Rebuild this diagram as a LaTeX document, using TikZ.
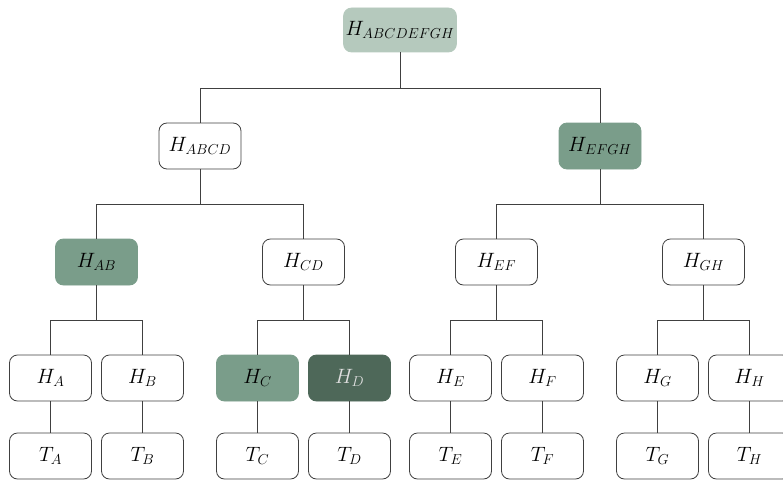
\documentclass[tikz,border=0pt]{standalone}
\usetikzlibrary{trees}

\definecolor{palegreen}{RGB}{181,201,189}
\definecolor{midgreen}{RGB}{122,157,138}
\definecolor{deepgreen}{RGB}{78,104,89}

\begin{document}
\begin{tikzpicture}[
  x=1pt, y=1pt,
  level distance=116pt,
  level 1/.style={sibling distance=400pt},
  level 2/.style={sibling distance=207pt},
  level 3/.style={sibling distance=92pt},
  level 4/.style={level distance=78pt},
  hbox/.style={rectangle, rounded corners=8pt, draw=black!75, line width=.8pt,
    fill=white, minimum width=82pt, minimum height=46pt, font=\huge},
  pale/.style={hbox, fill=palegreen, draw=palegreen},
  mid/.style={hbox, fill=midgreen, draw=midgreen},
  deep/.style={hbox, fill=deepgreen, draw=deepgreen, text=white!88!black},
  edge from parent/.style={draw=black!75, line width=.8pt},
  edge from parent path={(\tikzparentnode.south) |- ([yshift=.5\tikzleveldistance]\tikzchildnode.center) -- (\tikzchildnode.north)}]

  \useasboundingbox (-400,30) rectangle (383,-454);

  \node[pale, inner xsep=2pt, minimum width=111pt, minimum height=44pt] (habcdefgh) {$H_{ABCDEFGH}$}
	child {node[hbox] (habcd) {$H_{ABCD}$}
		child {node[mid] (hab) {$H_{AB}$}
			child {node[hbox] (ha) {$H_A$}
				child {node[hbox] (ta) {$T_A$}}
			}
			child {node[hbox] (hb) {$H_B$}
				child {node[hbox] (tb) {$T_B$}}
			}
		}
		child {node[hbox] (hcd) {$H_{CD}$}
			child {node[mid] (hc) {$H_C$}
				child {node[hbox] (tc) {$T_C$}}
			}
			child {node[deep] (hd) {$H_D$}
				child {node[hbox] (td) {$T_D$}}
			}
		}
	}
	child {node[mid] (hefgh) {$H_{EFGH}$}
		child {node[hbox] (hef) {$H_{EF}$}
			child {node[hbox] (he) {$H_E$}
				child {node[hbox] (te) {$T_E$}}
			}
			child {node[hbox] (hf) {$H_F$}
				child {node[hbox] (tf) {$T_F$}}
			}
		}
		child {node[hbox] (hgh) {$H_{GH}$}
			child {node[hbox] (hg) {$H_G$}
				child {node[hbox] (tg) {$T_G$}}
			}
			child {node[hbox] (hh) {$H_H$}
				child {node[hbox] (th) {$T_H$}}
			}
		}
	};
\end{tikzpicture}
\end{document}
